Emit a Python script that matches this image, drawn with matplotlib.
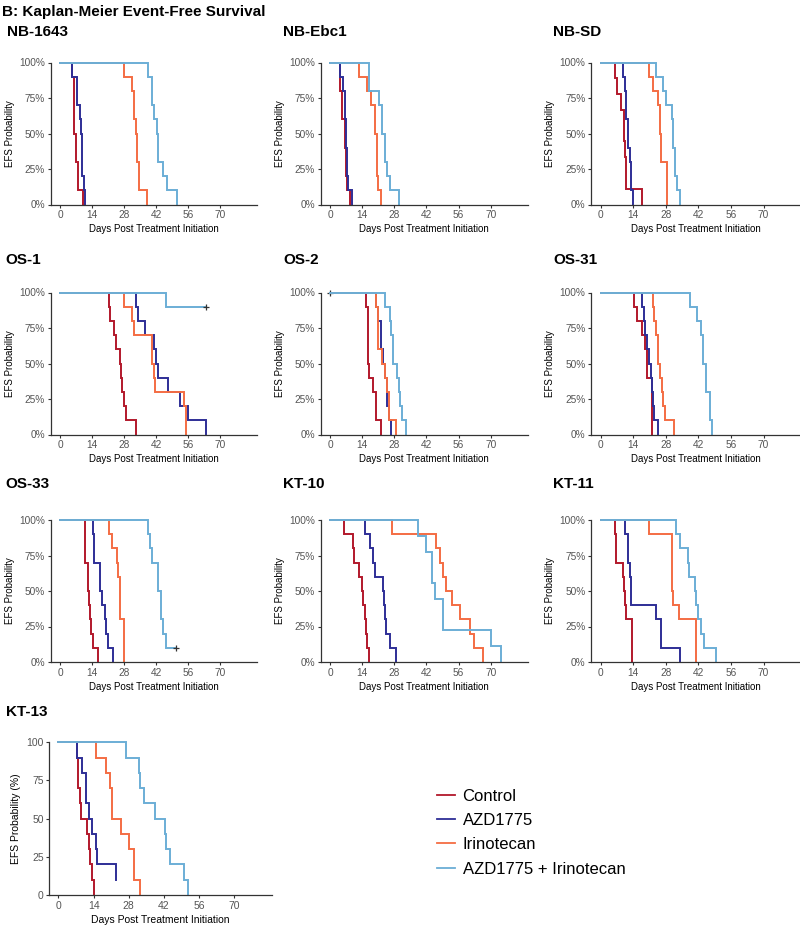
import numpy as np
import matplotlib
matplotlib.use("Agg")
import matplotlib.pyplot as plt

plt.rcParams["font.family"] = ["Liberation Sans", "DejaVu Sans"]

# Groups and colours
groups = ["Control", "AZD1775", "Irinotecan", "AZD1775 + Irinotecan"]
colors = ["#B2182B", "#2E2E96", "#F46D43", "#6BAED6"]

# Event times (days) per group: Control, AZD1775, Irinotecan, Combination
nb1643 = [[5, 6, 6, 6, 6, 7, 7, 8, 8, 10],
          [5, 7.5, 7.5, 8.5, 9, 9.5, 9.5, 9.5, 10.5, 11],
          [28, 31.5, 32.5, 32.5, 33, 33.5, 33.5, 34.3, 34.3, 38],
          [38.6, 40.1, 40.1, 41.1, 42.3, 43, 43, 45.2, 46.7, 51]]
nbebc1 = [[4.5, 4.5, 5, 5, 6.5, 6.5, 7, 7, 7.5, 8.5],
          [4.5, 5.5, 6.5, 6.5, 7, 7, 7.5, 7.5, 8, 9.5],
          [12.5, 16, 18, 19.5, 19.5, 20.5, 20.5, 20.5, 21, 22],
          [17, 17, 21.5, 22.5, 22.5, 24, 24, 25, 26, 30]]
nbsd = [[6, 7, 9, 10, 10, 10.5, 11, 11, 18],
        [9.5, 10.5, 11, 11, 12, 12, 12.5, 13, 13, 14],
        [21, 22.5, 24.5, 25.5, 25.5, 26, 26, 28.5, 28.5, 28.5],
        [24, 27, 28, 30.5, 31, 31, 32, 32, 33, 34]]
os1 = [[21.5, 22, 23.5, 24.5, 26, 26.5, 27, 28, 29, 33],
       [33, 34, 37, 41, 42, 43, 47, 52.5, 56, 64],
       [28, 31.5, 32.5, 40, 40, 41, 41.5, 54, 55, 55],
       [46.5]]
os2 = [[15.7, 16.3, 16.3, 16.3, 16.3, 17, 18.5, 20, 20, 22],
       [20, 21, 22, 22, 23, 24, 25, 25, 25.5, 26.5],
       [20, 21, 21, 21, 22.5, 24, 25, 25.5, 25.5, 28.5],
       [24, 26, 26.5, 27.5, 27.5, 29, 30, 30.5, 31.5, 33]]
os31 = [[14.5, 15.5, 18, 19, 20, 20, 22, 22, 22, 22],
        [18, 18.5, 19, 20, 21, 21.5, 22, 22.5, 23, 24.5],
        [22.5, 23, 24, 24.5, 24.5, 25.5, 26.5, 27, 27.5, 31.5],
        [38.5, 41.5, 43, 44, 44, 45.5, 45.5, 47, 47, 48]]
os33 = [[11, 11, 11, 12, 12, 12.5, 13, 13.5, 14.5, 16.5],
        [14.5, 15, 15, 17.5, 17.5, 18.5, 19.5, 20, 21, 23],
        [21.5, 22.5, 25, 25.5, 26, 26, 26, 28, 28, 28],
        [38.5, 39.5, 40, 43, 43, 44, 44, 45, 46.5]]
kt10 = [[6, 10, 10.5, 12.5, 14, 14.5, 15, 15.5, 16, 17],
        [15, 17.5, 18.5, 19.5, 23, 23.5, 24, 24.5, 26, 28.5],
        [27, 46, 48, 49, 50.5, 53, 56.5, 61, 62.5, 66.5],
        [38.5, 42, 44.5, 44.5, 45.5, 49, 49, 70, 74.5]]
kt11 = [[6, 6.5, 6.5, 9.5, 10, 10.5, 11, 13.5, 13.5, 13.5],
        [10.5, 12, 12, 12.5, 13, 13, 24, 26, 26, 34],
        [21, 30.5, 30.5, 30.5, 30.5, 31, 33.5, 41, 41, 41],
        [32.5, 34, 37.5, 38, 40.5, 41, 42, 43, 44.5, 49.5]]
kt13 = [[7.5, 8, 8, 8.5, 9, 11.5, 12, 12.5, 13.5, 14],
        [7.5, 9.5, 11, 11, 12, 13.5, 15, 15.5, 23],
        [15, 19, 20.5, 21.5, 21.5, 25, 28, 30, 30, 32.5],
        [27, 32, 32.5, 34, 38.5, 42.5, 43, 44.5, 50, 51.5]]

# Censored times (days) per group
os1_cens = [[], [], [], [64] * 9]
os2_cens = [[0], [], [], []]
os33_cens = [[], [], [], [50.5]]
kt13_cens = [[], [23], [], []]
no_cens = [[], [], [], []]

xticks = [0, 14, 28, 42, 56, 70]

W, H = 800, 925


def rect(left, top, w, h):
    return [left / W, 1 - (top + h) / H, w / W, h / H]


def km_curve(events, censored):
    times = np.array(list(events) + list(censored), dtype=float)
    flags = np.array([1] * len(events) + [0] * len(censored))
    s = 1.0
    xs, ys = [0.0], [1.0]
    marks = []
    for t in np.unique(times):
        n = np.sum(times >= t)
        d = np.sum((times == t) & (flags == 1))
        c = np.sum((times == t) & (flags == 0))
        if d > 0:
            xs += [t, t]
            ys += [s, s * (1 - d / n)]
            s = s * (1 - d / n)
        if c > 0:
            xs.append(t)
            ys.append(s)
            marks.append((t, s))
    return np.array(xs), np.array(ys), marks


def panel(rect_box, title, title_xy, data, cens, percent=True, show_marks=True,
          xlim=(-4.1, 86.1)):
    ax = fig.add_axes(rect_box)
    scale = 1.0 if percent else 100.0
    handles = []
    for k in range(4):
        xs, ys, marks = km_curve(data[k], cens[k])
        h, = ax.plot(xs, ys * scale, color=colors[k], lw=1.4, clip_on=False,
                     solid_joinstyle="miter")
        handles.append(h)
        if show_marks:
            for (mx, my) in marks:
                ax.plot(mx, my * scale, marker="+", color="#333333", ms=5,
                        mew=0.9, clip_on=False)
    ax.set_xlim(*xlim)
    ax.set_ylim(0, scale)
    ax.set_xticks(xticks)
    ax.set_yticks(np.array([0, 0.25, 0.5, 0.75, 1.0]) * scale)
    if percent:
        ax.set_yticklabels(["0%", "25%", "50%", "75%", "100%"])
        ax.set_ylabel("EFS Probability", fontsize=7, labelpad=3)
    else:
        ax.set_yticklabels(["0", "25", "50", "75", "100"])
        ax.set_ylabel("EFS Probability (%)", fontsize=7.5, labelpad=4)
    ax.set_xlabel("Days Post Treatment Initiation",
                  fontsize=7 if percent else 7.5, labelpad=3)
    for side in ["top", "right"]:
        ax.spines[side].set_visible(False)
    for side in ["left", "bottom"]:
        ax.spines[side].set_color("#333333")
        ax.spines[side].set_linewidth(0.9)
    ax.tick_params(colors="#333333", labelcolor="#555555", length=2.5,
                   width=0.8, labelsize=7.3 if percent else 7.5, pad=1.5)
    fig.text(title_xy[0] / W, 1 - title_xy[1] / H, title, fontsize=11,
             fontweight="bold", va="center", ha="left")
    return handles


fig = plt.figure(figsize=(8, 9.25), dpi=100)

fig.text(2 / W, 1 - 12 / H, "B: Kaplan-Meier Event-Free Survival", fontsize=11,
         fontweight="bold", va="center", ha="left")

lefts = [50.7, 320.7, 591]
widths = [206.3, 207, 210]
tops = [62.5, 292.5, 520]
ph = 142
tx = [7, 283, 553]
ty = [32, 260, 484]

panel(rect(lefts[0], tops[0], widths[0], ph), "NB-1643", (tx[0], ty[0]), nb1643, no_cens)
panel(rect(lefts[1], tops[0], widths[1], ph), "NB-Ebc1", (tx[1], ty[0]), nbebc1, no_cens)
panel(rect(lefts[2], tops[0], widths[2], ph), "NB-SD", (tx[2], ty[0]), nbsd, no_cens)
panel(rect(lefts[0], tops[1], widths[0], ph), "OS-1", (tx[0] - 2, ty[1]), os1, os1_cens)
panel(rect(lefts[1], tops[1], widths[1], ph), "OS-2", (tx[1], ty[1]), os2, os2_cens)
panel(rect(lefts[2], tops[1], widths[2], ph), "OS-31", (tx[2], ty[1]), os31, no_cens)
panel(rect(lefts[0], tops[2], widths[0], ph), "OS-33", (tx[0] - 2, ty[2]), os33, os33_cens)
panel(rect(lefts[1], tops[2], widths[1], ph), "KT-10", (tx[1], ty[2]), kt10, no_cens)
panel(rect(lefts[2], tops[2], widths[2], ph), "KT-11", (tx[2], ty[2]), kt11, no_cens)
handles = panel(rect(49.3, 742.3, 222.4, 152.7), "KT-13", (6, 712), kt13, kt13_cens,
                percent=False, show_marks=False, xlim=(-3.6, 84.9))

leg = fig.legend(handles, groups, loc="upper left",
                 bbox_to_anchor=(436.7 / W, 1 - 789 / H), frameon=False,
                 fontsize=12, handlelength=1.1, handletextpad=0.45,
                 labelspacing=0.55, borderpad=0, borderaxespad=0)
for line in leg.get_lines():
    line.set_linewidth(1.3)

fig.savefig("out.png", dpi=100)
